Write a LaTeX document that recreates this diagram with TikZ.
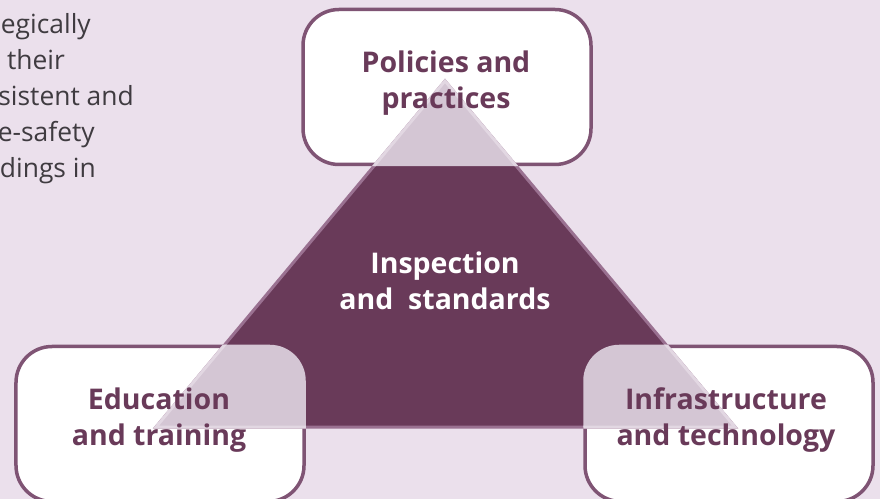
\documentclass[tikz,border=0pt]{standalone}
\usepackage{fontspec}
\setmainfont{Open Sans}
\definecolor{bgc}{HTML}{EBE0EC}
\definecolor{plum}{HTML}{693A59}
\definecolor{boxline}{HTML}{7F5474}
\definecolor{triline}{HTML}{9A7191}
\definecolor{veil}{HTML}{D4C6D4}
\definecolor{veilline}{HTML}{E2D7E2}
\definecolor{body}{HTML}{3F3B40}
\tikzset{
  x=1bp,y=-1bp,
  areabox/.style={draw=boxline,line width=3.5bp,fill=white,rounded corners=36bp,minimum width=288bp,minimum height=155bp,inner sep=0pt},
  label/.style={font=\fontsize{28.6}{36}\selectfont\bfseries,text=plum,align=center,inner sep=0pt},
  centrelabel/.style={label,text=white},
  bodyline/.style={font=\fontsize{26.5}{36}\selectfont,text=body,anchor=base east,inner sep=0pt},
}
\newcommand{\triangpath}{(apex) -- (right) -- (left) -- cycle}
\newcommand{\boxpath}[1]{[rounded corners=36bp] (#1.north west) rectangle (#1.south east)}
\begin{document}
\begin{tikzpicture}
\useasboundingbox (0,0) rectangle (880,499);
\fill[bgc] (0,0) rectangle (880,499);
\coordinate (apex) at (445,81);
\coordinate (left) at (156,427);
\coordinate (right) at (735,427);
\node[areabox] (policies) at (447,87) {};
\node[areabox] (education) at (160,424) {};
\node[areabox] (infrastructure) at (729,424) {};
\filldraw[fill=plum,draw=triline,line width=3bp,line join=miter] \triangpath;
\foreach \b in {policies,education,infrastructure}{
  \begin{scope}
    \clip \boxpath{\b};
    \filldraw[fill=veil,draw=veilline,line width=3bp] \triangpath;
  \end{scope}
}
\node[bodyline] (l1) at (91,34) {egically};
\node[bodyline] (l2) at (65,70) {their};
\node[bodyline] (l3) at (134,106) {sistent and};
\node[bodyline] (l4) at (95,142) {e-safety};
\node[bodyline] (l5) at (96,178) {dings in};
\node[label] (tpolicies) at (446,83) {Policies and\\practices};
\node[centrelabel] (tcentre) at (445,281) {Inspection\\and\ \ standards};
\node[label] (teducation) at (159,420) {Education\\and training};
\node[label] (tinfra) at (726,420) {Infrastructure\\and technology};
\end{tikzpicture}
\end{document}
